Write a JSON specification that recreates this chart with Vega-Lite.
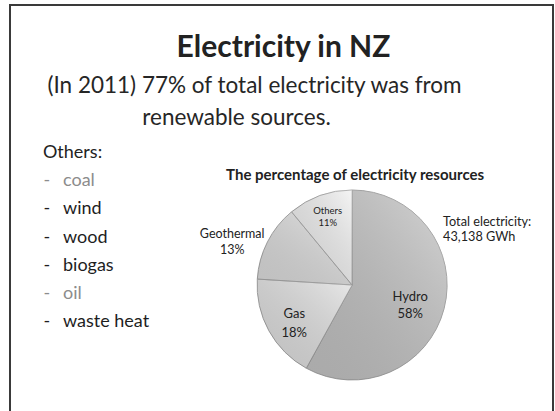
{
  "$schema": "https://vega.github.io/schema/vega-lite/v6.json",
  "width": 543,
  "height": 420,
  "autosize": {"type": "none"},
  "padding": {"left": 10, "top": 5, "right": 2, "bottom": 0},
  "background": "white",
  "config": {"view": {"stroke": "#3a3a3a", "strokeWidth": 2}, "font": "Lato", "text": {"font": "Lato"}},
  "datasets": {
    "sources": [
      {"source": "Hydro", "share": 0.58},
      {"source": "Gas", "share": 0.18},
      {"source": "Geothermal", "share": 0.13},
      {"source": "Others", "share": 0.11}
    ],
    "others": [
      {"label": "Others:", "kind": "header"},
      {"label": "coal", "kind": "non-renewable"},
      {"label": "wind", "kind": "renewable"},
      {"label": "wood", "kind": "renewable"},
      {"label": "biogas", "kind": "renewable"},
      {"label": "oil", "kind": "non-renewable"},
      {"label": "waste heat", "kind": "renewable"}
    ],
    "headings": [
      {"title": "Electricity in NZ", "line1": "(In 2011) 77% of total electricity was from", "line2": "renewable sources.", "chart": "The percentage of electricity resources", "total1": "Total electricity:", "total2": "43,138 GWh"}
    ]
  },
  "resolve": {"scale": {"color": "independent"}},
  "layer": [
    {
      "data": {"name": "headings"},
      "mark": {"type": "text", "fontSize": 30, "fontWeight": "bold", "color": "#222222", "baseline": "alphabetic", "align": "center", "dx": 2, "dy": -158},
      "encoding": {"text": {"field": "title"}}
    },
    {
      "data": {"name": "headings"},
      "mark": {"type": "text", "fontSize": 22.5, "color": "#262626", "baseline": "alphabetic", "align": "center", "dx": -27, "dy": -122},
      "encoding": {"text": {"field": "line1"}}
    },
    {
      "data": {"name": "headings"},
      "mark": {"type": "text", "fontSize": 22.5, "color": "#262626", "baseline": "alphabetic", "align": "center", "dx": -45, "dy": -90},
      "encoding": {"text": {"field": "line2"}}
    },
    {
      "data": {"name": "others"},
      "transform": [{"filter": "datum.kind === 'header'"}],
      "mark": {"type": "text", "fontSize": 18, "align": "left", "baseline": "middle", "dx": -238.5, "color": "#222222"},
      "encoding": {
        "y": {"field": "label", "type": "nominal", "scale": {"type": "point", "domain": ["Others:", "coal", "wind", "wood", "biogas", "oil", "waste heat"], "range": [148, 317], "padding": 0}, "axis": null},
        "text": {"field": "label"}
      }
    },
    {
      "data": {"name": "others"},
      "transform": [{"filter": "datum.kind !== 'header'"}],
      "mark": {"type": "text", "fontSize": 18, "align": "left", "baseline": "middle", "dx": -238, "text": "-"},
      "encoding": {
        "y": {"field": "label", "type": "nominal", "axis": null},
        "color": {"field": "kind", "type": "nominal", "scale": {"domain": ["renewable", "non-renewable"], "range": ["#1e1e1e", "#8c8c8c"]}, "legend": null}
      }
    },
    {
      "data": {"name": "others"},
      "transform": [{"filter": "datum.kind !== 'header'"}],
      "mark": {"type": "text", "fontSize": 18, "align": "left", "baseline": "middle", "dx": -218.5},
      "encoding": {
        "y": {"field": "label", "type": "nominal", "axis": null},
        "text": {"field": "label"},
        "color": {"field": "kind", "type": "nominal", "scale": {"domain": ["renewable", "non-renewable"], "range": ["#1e1e1e", "#8c8c8c"]}, "legend": null}
      }
    },
    {
      "data": {"name": "sources"},
      "mark": {"type": "arc", "x": {"expr": "width*0.63"}, "y": {"expr": "height*0.6667"}, "outerRadius": 95, "stroke": "#a0a0a0", "strokeWidth": 1},
      "encoding": {
        "theta": {"field": "share", "type": "quantitative", "stack": true},
        "order": {"field": "share", "sort": "descending"},
        "color": {"field": "source", "type": "nominal", "scale": {"domain": ["Hydro", "Gas", "Geothermal", "Others"], "range": ["#c4c4c4", "#e0e0e0", "#dedede", "#f0f0f0"]}, "legend": null}
      }
    },
    {
      "data": {"name": "sources"},
      "mark": {"type": "arc", "x": {"expr": "width*0.63"}, "y": {"expr": "height*0.6667"}, "outerRadius": 95, "strokeWidth": 0,
        "fill": {"gradient": "linear", "x1": 1, "y1": 0, "x2": 0, "y2": 1, "stops": [{"offset": 0, "color": "rgba(255,255,255,0.3)"}, {"offset": 1, "color": "rgba(0,0,0,0.13)"}]}},
      "encoding": {
        "theta": {"field": "share", "type": "quantitative", "stack": true},
        "order": {"field": "share", "sort": "descending"}
      }
    },
    {
      "data": {"name": "sources"},
      "mark": {"type": "text", "x": {"expr": "width*0.63"}, "y": {"expr": "height*0.6667"}, "radius": 60, "dy": -3, "fontSize": 13, "color": "#222222", "baseline": "middle", "align": "center"},
      "encoding": {
        "theta": {"field": "share", "type": "quantitative", "stack": true},
        "order": {"field": "share", "sort": "descending"},
        "text": {"field": "source"},
        "opacity": {"condition": {"test": "datum.source === 'Hydro'", "value": 1}, "value": 0}
      }
    },
    {
      "data": {"name": "sources"},
      "mark": {"type": "text", "x": {"expr": "width*0.63"}, "y": {"expr": "height*0.6667"}, "radius": 60, "dy": 14, "fontSize": 13, "color": "#222222", "baseline": "middle", "align": "center"},
      "encoding": {
        "theta": {"field": "share", "type": "quantitative", "stack": true},
        "order": {"field": "share", "sort": "descending"},
        "text": {"field": "share", "format": ".0%"},
        "opacity": {"condition": {"test": "datum.source === 'Hydro'", "value": 1}, "value": 0}
      }
    },
    {
      "data": {"name": "sources"},
      "mark": {"type": "text", "x": {"expr": "width*0.63"}, "y": {"expr": "height*0.6667"}, "radius": 66, "dy": -3, "fontSize": 13, "color": "#222222", "baseline": "middle", "align": "center"},
      "encoding": {
        "theta": {"field": "share", "type": "quantitative", "stack": true},
        "order": {"field": "share", "sort": "descending"},
        "text": {"field": "source"},
        "opacity": {"condition": {"test": "datum.source === 'Gas'", "value": 1}, "value": 0}
      }
    },
    {
      "data": {"name": "sources"},
      "mark": {"type": "text", "x": {"expr": "width*0.63"}, "y": {"expr": "height*0.6667"}, "radius": 66, "dy": 16, "fontSize": 13, "color": "#222222", "baseline": "middle", "align": "center"},
      "encoding": {
        "theta": {"field": "share", "type": "quantitative", "stack": true},
        "order": {"field": "share", "sort": "descending"},
        "text": {"field": "share", "format": ".0%"},
        "opacity": {"condition": {"test": "datum.source === 'Gas'", "value": 1}, "value": 0}
      }
    },
    {
      "data": {"name": "sources"},
      "mark": {"type": "text", "x": {"expr": "width*0.63"}, "y": {"expr": "height*0.6667"}, "radius": 120, "dx": -13, "dy": 3.5, "fontSize": 12.5, "color": "#222222", "baseline": "middle", "align": "center"},
      "encoding": {
        "theta": {"field": "share", "type": "quantitative", "stack": true},
        "order": {"field": "share", "sort": "descending"},
        "text": {"field": "source"},
        "opacity": {"condition": {"test": "datum.source === 'Geothermal'", "value": 1}, "value": 0}
      }
    },
    {
      "data": {"name": "sources"},
      "mark": {"type": "text", "x": {"expr": "width*0.63"}, "y": {"expr": "height*0.6667"}, "radius": 120, "dx": -13, "dy": 19.5, "fontSize": 12.5, "color": "#222222", "baseline": "middle", "align": "center"},
      "encoding": {
        "theta": {"field": "share", "type": "quantitative", "stack": true},
        "order": {"field": "share", "sort": "descending"},
        "text": {"field": "share", "format": ".0%"},
        "opacity": {"condition": {"test": "datum.source === 'Geothermal'", "value": 1}, "value": 0}
      }
    },
    {
      "data": {"name": "sources"},
      "mark": {"type": "text", "x": {"expr": "width*0.63"}, "y": {"expr": "height*0.6667"}, "radius": 72, "dy": -6, "fontSize": 9.5, "color": "#222222", "baseline": "middle", "align": "center"},
      "encoding": {
        "theta": {"field": "share", "type": "quantitative", "stack": true},
        "order": {"field": "share", "sort": "descending"},
        "text": {"field": "source"},
        "opacity": {"condition": {"test": "datum.source === 'Others'", "value": 1}, "value": 0}
      }
    },
    {
      "data": {"name": "sources"},
      "mark": {"type": "text", "x": {"expr": "width*0.63"}, "y": {"expr": "height*0.6667"}, "radius": 72, "dy": 6, "fontSize": 9.5, "color": "#222222", "baseline": "middle", "align": "center"},
      "encoding": {
        "theta": {"field": "share", "type": "quantitative", "stack": true},
        "order": {"field": "share", "sort": "descending"},
        "text": {"field": "share", "format": ".0%"},
        "opacity": {"condition": {"test": "datum.source === 'Others'", "value": 1}, "value": 0}
      }
    },
    {
      "data": {"name": "headings"},
      "mark": {"type": "text", "x": {"expr": "width*0.63"}, "y": {"expr": "height*0.6667"}, "dx": 3, "dy": -110, "fontSize": 15, "fontWeight": "bold", "color": "#222222", "baseline": "middle", "align": "center"},
      "encoding": {"text": {"field": "chart"}}
    },
    {
      "data": {"name": "headings"},
      "mark": {"type": "text", "x": {"expr": "width*0.63"}, "y": {"expr": "height*0.6667"}, "dx": 91, "dy": -63, "fontSize": 12.7, "color": "#222222", "baseline": "middle", "align": "left"},
      "encoding": {"text": {"field": "total1"}}
    },
    {
      "data": {"name": "headings"},
      "mark": {"type": "text", "x": {"expr": "width*0.63"}, "y": {"expr": "height*0.6667"}, "dx": 91, "dy": -48, "fontSize": 12.7, "color": "#222222", "baseline": "middle", "align": "left"},
      "encoding": {"text": {"field": "total2"}}
    }
  ]
}
